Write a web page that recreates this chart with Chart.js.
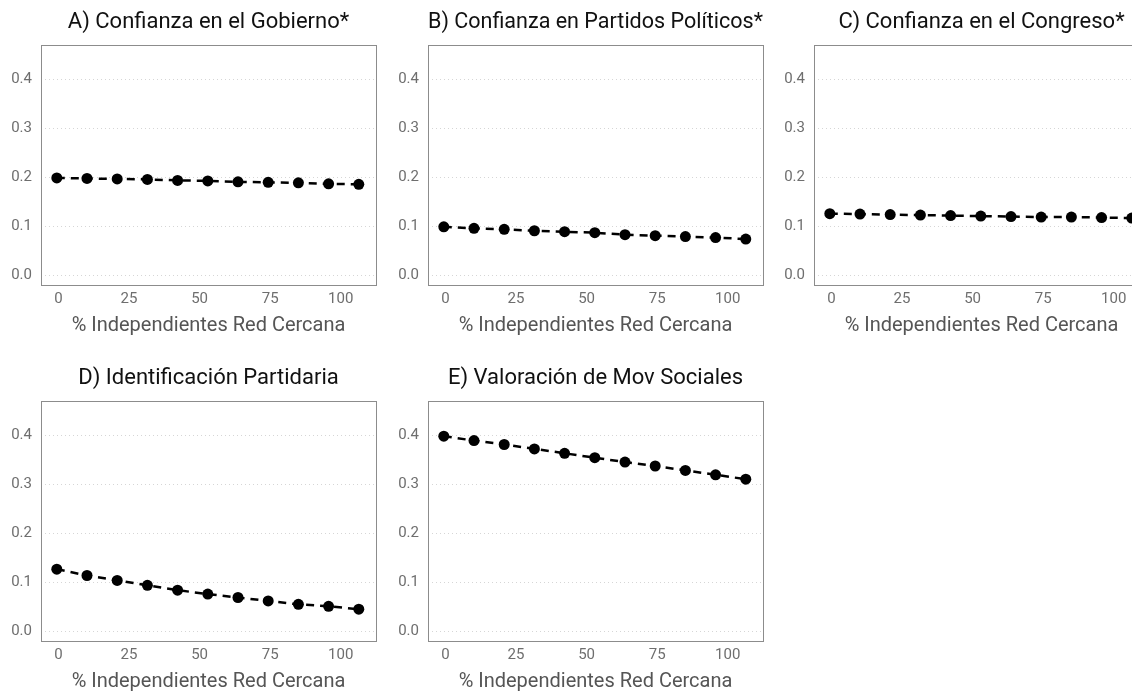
<!DOCTYPE html>
<html>
<head>
<meta charset="utf-8">
<script src="https://cdn.jsdelivr.net/npm/chart.js@4.4.1/dist/chart.umd.min.js"></script>
<style>
    html, body { margin: 0; padding: 0; background: #fff; overflow: hidden; }
    body { width: 1132px; height: 692px; position: relative; }
    .panel { position: absolute; width: 386px; height: 346px; }
</style>
</head>
<body>
<div class="panel" style="left:0px;top:0px"><canvas id="chartA"></canvas></div>
<div class="panel" style="left:387px;top:0px"><canvas id="chartB"></canvas></div>
<div class="panel" style="left:773px;top:0px"><canvas id="chartC"></canvas></div>
<div class="panel" style="left:0px;top:356px"><canvas id="chartD"></canvas></div>
<div class="panel" style="left:387px;top:356px"><canvas id="chartE"></canvas></div>

<script>
// x positions of the 11 points
const xValues = [-0.6, 10.1, 20.8, 31.5, 42.2, 52.9, 63.6, 74.3, 85.0, 95.7, 106.4];
const xTicks = [0, 25, 50, 75, 100];
const yTicks = [0, 0.1, 0.2, 0.3, 0.4];
const xTitle = '% Independientes Red Cercana';

const titles = [
    'A) Confianza en el Gobierno*',
    'B) Confianza en Partidos Políticos*',
    'C) Confianza en el Congreso*',
    'D) Identificación Partidaria',
    'E) Valoración de Mov Sociales'
];

const yGobierno = [0.199, 0.198, 0.197, 0.196, 0.194, 0.193, 0.191, 0.190, 0.189, 0.187, 0.186];
const yPartidos = [0.099, 0.096, 0.094, 0.091, 0.089, 0.087, 0.083, 0.081, 0.079, 0.077, 0.074];
const yCongreso = [0.126, 0.125, 0.124, 0.123, 0.122, 0.121, 0.120, 0.119, 0.119, 0.118, 0.117];
const yIdentificacion = [0.127, 0.114, 0.104, 0.094, 0.084, 0.076, 0.069, 0.062, 0.055, 0.051, 0.045];
const yMovSociales = [0.399, 0.390, 0.382, 0.373, 0.364, 0.355, 0.346, 0.338, 0.329, 0.320, 0.311];

const FONT = 'Roboto, "Noto Sans", sans-serif';

// full grey box around the plotting area
const panelBorder = {
    id: 'panelBorder',
    afterDraw(chart) {
        const { ctx, chartArea: a } = chart;
        ctx.save();
        ctx.strokeStyle = '#8c8c8c';
        ctx.lineWidth = 1;
        ctx.strokeRect(Math.round(a.left) + 0.5, Math.round(a.top) + 0.5,
            Math.round(a.right - a.left), Math.round(a.bottom - a.top));
        ctx.restore();
    }
};

function drawPanel(id, title, yValues) {
    const ctx = document.getElementById(id).getContext('2d');
    return new Chart(ctx, {
        type: 'scatter',
        data: {
            datasets: [{
                data: xValues.map((x, i) => ({ x: x, y: yValues[i] })),
                showLine: true,
                borderColor: '#000',
                borderWidth: 2.5,
                borderDash: [8, 6],
                pointRadius: 5.5,
                pointBorderWidth: 0,
                pointBackgroundColor: '#000',
                tension: 0
            }]
        },
        options: {
            responsive: true,
            maintainAspectRatio: false,
            animation: false,
            layout: { padding: { left: 0, right: 10, top: 0, bottom: 0 } },
            plugins: {
                legend: { display: false },
                tooltip: { enabled: false },
                title: {
                    display: true,
                    fullSize: false,
                    text: title,
                    color: '#111',
                    font: { family: FONT, size: 22, weight: 'normal', lineHeight: 1.2 },
                    padding: { top: 9, bottom: 9.6 }
                }
            },
            scales: {
                x: {
                    type: 'linear',
                    min: -6.2,
                    max: 112.5,
                    afterBuildTicks: s => { s.ticks = xTicks.map(v => ({ value: v })); },
                    afterFit: s => { s.height = 61; },
                    grid: { display: false, drawTicks: false },
                    border: { display: false },
                    ticks: {
                        color: '#6e6e6e',
                        padding: 5,
                        font: { family: FONT, size: 15 },
                        callback: v => String(v)
                    },
                    title: {
                        display: true,
                        text: xTitle,
                        color: '#555',
                        font: { family: FONT, size: 20, lineHeight: 1.2 },
                        padding: { top: 0, bottom: 8 }
                    }
                },
                y: {
                    min: -0.02,
                    max: 0.471,
                    afterBuildTicks: s => { s.ticks = yTicks.map(v => ({ value: v })); },
                    afterFit: s => { s.width = 41; },
                    grid: { color: '#d6d6d6', lineWidth: 1, drawTicks: false },
                    border: { display: false, dash: [1, 3] },
                    ticks: {
                        color: '#6e6e6e',
                        padding: 9,
                        font: { family: FONT, size: 15 },
                        callback: v => v.toFixed(1)
                    }
                }
            }
        },
        plugins: [panelBorder]
    });
}

drawPanel('chartA', titles[0], yGobierno);
drawPanel('chartB', titles[1], yPartidos);
drawPanel('chartC', titles[2], yCongreso);
drawPanel('chartD', titles[3], yIdentificacion);
drawPanel('chartE', titles[4], yMovSociales);
</script>
</body>
</html>
